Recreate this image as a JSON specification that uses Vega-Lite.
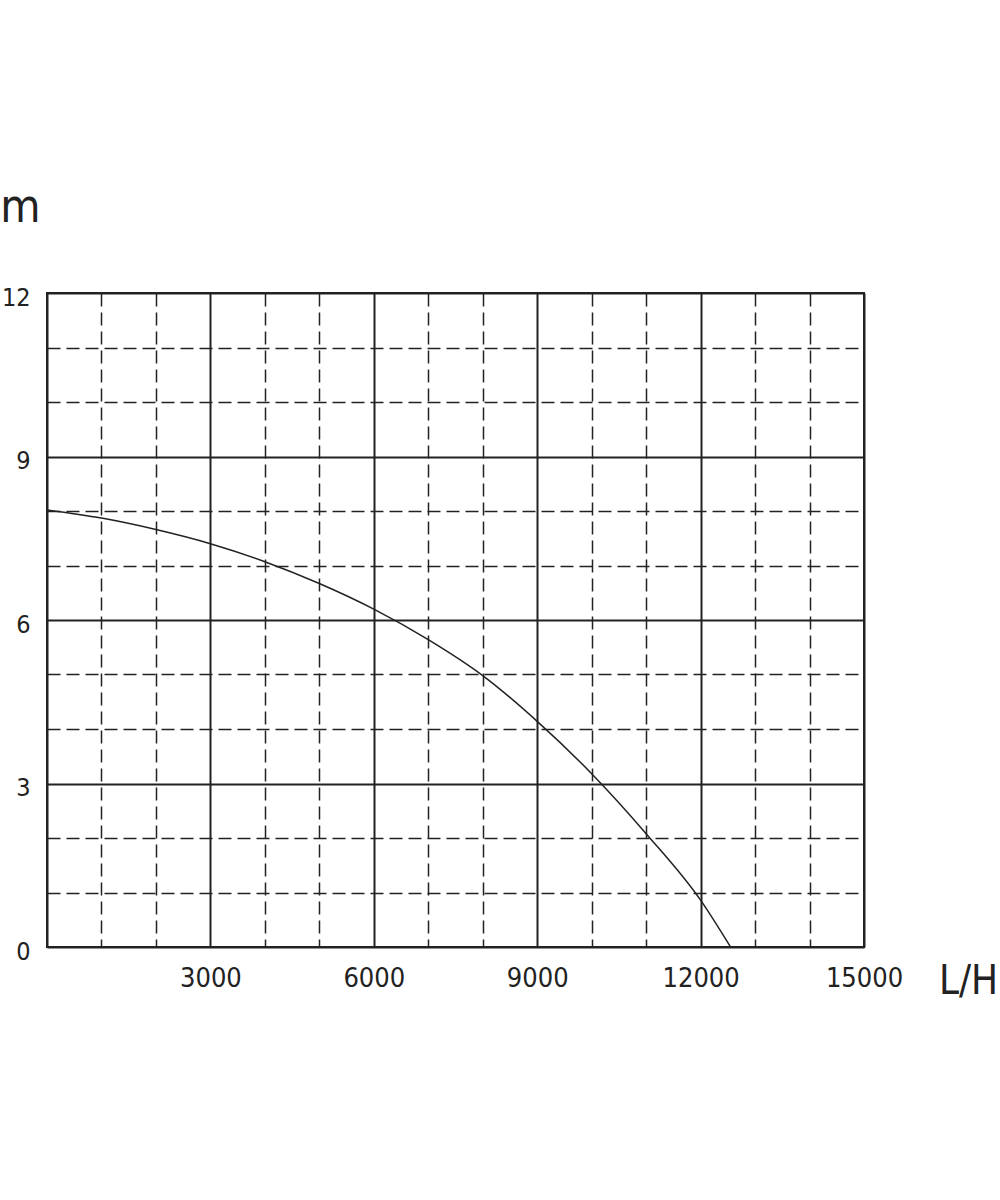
{
  "$schema": "https://vega.github.io/schema/vega-lite/v6.json",
  "autosize": {"type": "none"},
  "padding": {"left": 47, "top": 293, "right": 136, "bottom": 253},
  "width": 817,
  "height": 654,
  "background": "white",
  "config": {
    "view": {"stroke": "#222", "strokeWidth": 2},
    "font": "DejaVu Sans Condensed, Roboto, sans-serif"
  },
  "data": {
    "values": [
      {"flow": 0, "head": 8.02},
      {"flow": 1000, "head": 7.87},
      {"flow": 2000, "head": 7.66},
      {"flow": 3000, "head": 7.40},
      {"flow": 4000, "head": 7.07},
      {"flow": 5000, "head": 6.67},
      {"flow": 6000, "head": 6.20},
      {"flow": 7000, "head": 5.64},
      {"flow": 8000, "head": 4.98},
      {"flow": 9000, "head": 4.14},
      {"flow": 10000, "head": 3.18},
      {"flow": 11000, "head": 2.08},
      {"flow": 12000, "head": 0.86},
      {"flow": 12550, "head": 0}
    ]
  },
  "mark": {"type": "line", "color": "#222", "strokeWidth": 1.5, "interpolate": "monotone", "clip": true},
  "encoding": {
    "x": {
      "field": "flow", "type": "quantitative",
      "scale": {"domain": [0, 15000], "nice": false, "zero": true},
      "axis": {
        "values": [0, 1000, 2000, 3000, 4000, 5000, 6000, 7000, 8000, 9000, 10000, 11000, 12000, 13000, 14000, 15000],
        "labelExpr": "datum.value > 0 && datum.value % 3000 === 0 ? datum.label : ''",
        "format": "d",
        "labelOverlap": false,
        "labelFlush": false,
        "labelFont": "DejaVu Sans Condensed, Roboto, sans-serif",
        "labelFontWeight": 300,
        "labelFontSize": 27,
        "labelColor": "#222",
        "labelBaseline": "top",
        "labelPadding": 18,
        "ticks": false,
        "domain": false,
        "grid": true,
        "gridColor": "#222",
        "gridOpacity": 1,
        "gridWidth": {"condition": {"test": "datum.value % 3000 === 0", "value": 2}, "value": 1.5},
        "gridDash": {"condition": {"test": "datum.value % 3000 === 0", "value": []}, "value": [13, 6]},
        "title": "L/H",
        "titleFont": "DejaVu Sans Condensed, Roboto, sans-serif",
        "titleFontSize": 40,
        "titleFontWeight": 300,
        "titleColor": "#222",
        "titleAnchor": null,
        "titleX": 921,
        "titleY": 34,
        "titleAlign": "center",
        "titleBaseline": "middle"
      }
    },
    "y": {
      "field": "head", "type": "quantitative",
      "scale": {"domain": [0, 12], "nice": false},
      "axis": {
        "values": [0, 1, 2, 3, 4, 5, 6, 7, 8, 9, 10, 11, 12],
        "labelExpr": "datum.value % 3 === 0 ? datum.label : ''",
        "labelOverlap": false,
        "labelFlush": false,
        "labelFont": "DejaVu Sans Condensed, Roboto, sans-serif",
        "labelFontWeight": 300,
        "labelFontSize": 25,
        "labelColor": "#222",
        "labelPadding": 17,
        "labelOffset": 4,
        "ticks": false,
        "domain": false,
        "grid": true,
        "gridColor": "#222",
        "gridOpacity": 1,
        "gridWidth": {"condition": {"test": "datum.value % 3 === 0", "value": 2}, "value": 1.5},
        "gridDash": {"condition": {"test": "datum.value % 3 === 0", "value": []}, "value": [13, 6]},
        "title": "m",
        "titleFont": "DejaVu Sans Condensed, Roboto, sans-serif",
        "titleFontSize": 46,
        "titleFontWeight": 300,
        "titleColor": "#222",
        "titleAngle": 0,
        "titleAnchor": null,
        "titleX": -27,
        "titleY": -86,
        "titleAlign": "center",
        "titleBaseline": "middle"
      }
    }
  }
}
